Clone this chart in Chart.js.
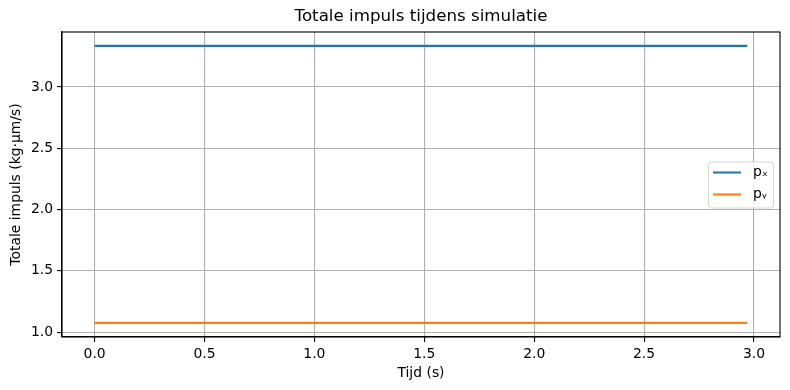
<!DOCTYPE html>
<html>
<head>
<meta charset="utf-8">
<script src="https://cdn.jsdelivr.net/npm/chart.js@4"></script>
<style>
  html, body { margin: 0; padding: 0; background: #fff; }
  #wrap { width: 790px; height: 390px; }
</style>
</head>
<body>
<div id="wrap"><canvas id="chart" width="790" height="390"></canvas></div>
<script>
// Data
const times = [0.0, 0.5, 1.0, 1.5, 2.0, 2.5, 2.97];
const pxValues = [3.335, 3.335, 3.335, 3.335, 3.335, 3.335, 3.335];
const pyValues = [1.075, 1.075, 1.075, 1.075, 1.075, 1.075, 1.075];
const seriesLabels = ["p\u2093", "p\u1D67"];
const xTicks = [0.0, 0.5, 1.0, 1.5, 2.0, 2.5, 3.0];
const yTicks = [1.0, 1.5, 2.0, 2.5, 3.0];

const FONT = "'DejaVu Sans', sans-serif";
const COLORS = ["#1f77b4", "#ff7f0e"];

// title, full axes frame and legend, matplotlib style
const decorPlugin = {
  id: "decor",
  afterDraw: function(chart) {
    const ctx = chart.ctx;
    const a = chart.chartArea;
    ctx.save();

    // title
    ctx.fillStyle = "#000";
    ctx.font = "16.7px " + FONT;
    ctx.textAlign = "center";
    ctx.textBaseline = "middle";
    ctx.fillText("Totale impuls tijdens simulatie", (a.left + a.right) / 2, 17);

    // spines
    ctx.strokeStyle = "#000";
    ctx.lineWidth = 1.1;
    ctx.strokeRect(a.left, a.top, a.right - a.left, a.bottom - a.top);

    // legend, center right
    const w = 65, h = 46;
    const x = a.right - 7 - w;
    const y = (a.top + a.bottom) / 2 - h / 2;
    ctx.fillStyle = "rgba(255,255,255,0.8)";
    ctx.strokeStyle = "#d6d6d6";
    ctx.lineWidth = 1;
    ctx.beginPath();
    ctx.roundRect(x + 0.5, y + 0.5, w, h, 3);
    ctx.fill();
    ctx.stroke();

    ctx.font = "13.9px " + FONT;
    ctx.textAlign = "left";
    chart.data.datasets.forEach(function(ds, i) {
      const ly = y + 11 + i * 22;
      ctx.strokeStyle = ds.borderColor;
      ctx.lineWidth = 2.1;
      ctx.beginPath();
      ctx.moveTo(x + 5, ly);
      ctx.lineTo(x + 33, ly);
      ctx.stroke();
      ctx.fillStyle = "#000";
      ctx.fillText(ds.label, x + 45, ly);
    });
    ctx.restore();
  }
};

new Chart(document.getElementById("chart").getContext("2d"), {
  type: "line",
  data: {
    datasets: [
      {
        label: seriesLabels[0],
        data: times.map((t, i) => ({ x: t, y: pxValues[i] })),
        borderColor: COLORS[0],
        borderWidth: 2.1,
        pointRadius: 0,
        tension: 0
      },
      {
        label: seriesLabels[1],
        data: times.map((t, i) => ({ x: t, y: pyValues[i] })),
        borderColor: COLORS[1],
        borderWidth: 2.1,
        pointRadius: 0,
        tension: 0
      }
    ]
  },
  options: {
    responsive: false,
    animation: false,
    devicePixelRatio: 1,
    layout: { padding: { top: 32, right: 10, bottom: 0, left: 0 } },
    plugins: {
      legend: { display: false },
      title: { display: false },
      tooltip: { enabled: false }
    },
    scales: {
      x: {
        type: "linear",
        min: -0.1485,
        max: 3.1185,
        afterBuildTicks: function(scale) {
          scale.ticks = xTicks.map(v => ({ value: v }));
        },
        afterFit: function(scale) { scale.height = 53; },
        grid: {
          color: "#b0b0b0",
          lineWidth: 1.1,
          tickColor: "#000",
          tickLength: 5,
          tickWidth: 1.1
        },
        border: { display: true, color: "#000", width: 1.1 },
        ticks: {
          color: "#000",
          padding: 4,
          maxRotation: 0,
          font: { family: FONT, size: 13.9 },
          callback: function(v) { return Number(v).toFixed(1); }
        },
        title: {
          display: true,
          text: "Tijd (s)",
          color: "#000",
          font: { family: FONT, size: 13.9 },
          padding: { top: 0, bottom: 8 }
        }
      },
      y: {
        type: "linear",
        min: 0.96,
        max: 3.448,
        afterBuildTicks: function(scale) {
          scale.ticks = yTicks.map(v => ({ value: v }));
        },
        afterFit: function(scale) { scale.width = 62; },
        grid: {
          color: "#b0b0b0",
          lineWidth: 1.1,
          tickColor: "#000",
          tickLength: 5,
          tickWidth: 1.1
        },
        border: { display: true, color: "#000", width: 1.1 },
        ticks: {
          color: "#000",
          padding: 4,
          font: { family: FONT, size: 13.9 },
          callback: function(v) { return Number(v).toFixed(1); }
        },
        title: {
          display: true,
          text: "Totale impuls (kg\u00B7\u00B5m/s)",
          color: "#000",
          font: { family: FONT, size: 13.9 },
          padding: { top: 8, bottom: 0 }
        }
      }
    }
  },
  plugins: [decorPlugin]
});
</script>
</body>
</html>
